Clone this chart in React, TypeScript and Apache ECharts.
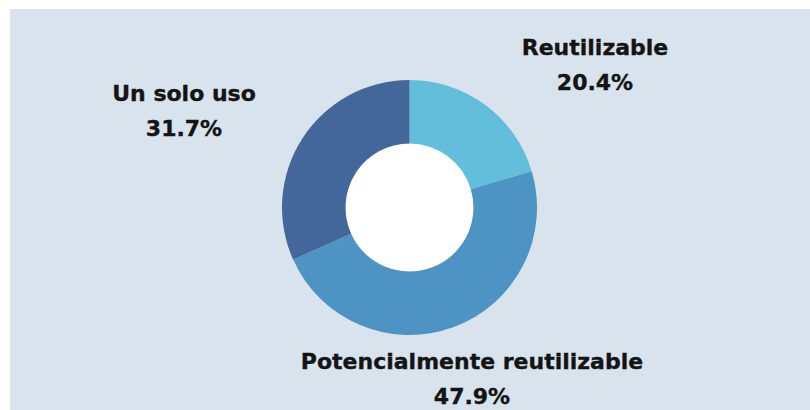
import React, { useEffect, useRef } from "react";
import * as echarts from "echarts";

const categories = ["Reutilizable", "Potencialmente reutilizable", "Un solo uso"];
const values = [20.4, 47.9, 31.7];
const colors = ["#63bedb", "#4d93c4", "#43669b"];
const labelPos = [
  [585, 56],
  [462, 370],
  [174, 102],
];

export default function App() {
  const ref = useRef<HTMLDivElement>(null);
  useEffect(() => {
    if (!ref.current) return;
    const chart = echarts.init(ref.current, undefined, { renderer: "svg" });
    chart.setOption({
      animation: false,
      backgroundColor: "#d8e3ee",
      series: [
        {
          type: "pie",
          silent: true,
          center: [399.5, 198.5],
          radius: [0, 64],
          data: [{ value: 1, name: "", itemStyle: { color: "#ffffff" } }],
          label: { show: false },
          labelLine: { show: false },
        },
        {
          type: "pie",
          center: [399.5, 198.5],
          radius: [64, 127.5],
          startAngle: 90,
          clockwise: true,
          data: categories.map((name, i) => ({
            name,
            value: values[i],
            itemStyle: { color: colors[i] },
          })),
          label: {
            show: true,
            position: "outside",
            formatter: (p: any) => `${p.name}\n${p.value.toFixed(1)}%`,
            fontFamily: "DejaVu Sans",
            fontWeight: "bold",
            fontSize: 22,
            lineHeight: 35,
            color: "#141414",
            textBorderColor: "#141414",
            textBorderWidth: 0.35,
            align: "center",
            overflow: "none",
          },
          labelLine: { show: false },
          labelLayout: (params: any) => ({
            x: labelPos[params.dataIndex][0],
            y: labelPos[params.dataIndex][1],
            align: "center",
            verticalAlign: "middle",
          }),
          emphasis: { disabled: true },
        },
      ],
    });
    return () => chart.dispose();
  }, []);
  return (
    <div
      style={{
        position: "fixed",
        left: 0,
        top: 0,
        width: 810,
        height: 410,
        background: "#ffffff",
      }}
    >
      <div
        ref={ref}
        style={{ position: "absolute", left: 10, top: 9, width: 800, height: 401 }}
      />
    </div>
  );
}
